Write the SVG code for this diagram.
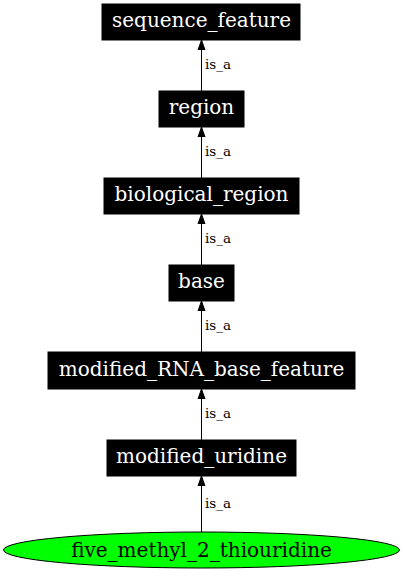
<svg xmlns="http://www.w3.org/2000/svg" width="403" height="576" viewBox="0 0 403 576">
<defs>
<style>
.box{fill:#000;stroke:#000}
.nt{font-family:"DejaVu Serif",serif;font-size:20px;fill:#fff;text-anchor:middle}
.et{font-family:"DejaVu Serif",serif;font-size:13.5px;fill:#000}
.edge{stroke:#000;stroke-width:1;fill:none}
</style>
<marker id="arr" markerWidth="10" markerHeight="10" refX="10" refY="5" orient="auto" markerUnits="userSpaceOnUse" viewBox="0 0 10 10">
<path d="M0,1.5 L10,5 L0,8.5 Z" fill="#000" stroke="#000"/>
</marker>
</defs>
<rect width="403" height="576" fill="#fff"/>
<g id="edges">
<line class="edge" x1="201.5" y1="91" x2="201.5" y2="40" marker-end="url(#arr)"/>
<text class="et" x="205" y="69">is_a</text>
<line class="edge" x1="201.5" y1="178" x2="201.5" y2="127" marker-end="url(#arr)"/>
<text class="et" x="205" y="156">is_a</text>
<line class="edge" x1="201.5" y1="265" x2="201.5" y2="214" marker-end="url(#arr)"/>
<text class="et" x="205" y="243">is_a</text>
<line class="edge" x1="201.5" y1="352" x2="201.5" y2="301" marker-end="url(#arr)"/>
<text class="et" x="205" y="330">is_a</text>
<line class="edge" x1="201.5" y1="440" x2="201.5" y2="389" marker-end="url(#arr)"/>
<text class="et" x="205" y="418">is_a</text>
<line class="edge" x1="201.5" y1="532" x2="201.5" y2="476" marker-end="url(#arr)"/>
<text class="et" x="205" y="508">is_a</text>
</g>
<g id="sequence_feature"><rect class="box" x="102" y="4" width="198" height="36"/><text class="nt" x="201.5" y="27">sequence_feature</text></g>
<g id="region"><rect class="box" x="159" y="91" width="85" height="36"/><text class="nt" x="201.5" y="114">region</text></g>
<g id="biological_region"><rect class="box" x="104" y="178" width="195" height="36"/><text class="nt" x="201.5" y="201">biological_region</text></g>
<g id="base"><rect class="box" x="169" y="265" width="65" height="36"/><text class="nt" x="201.5" y="288">base</text></g>
<g id="modified_RNA_base_feature"><rect class="box" x="48" y="352" width="307" height="37"/><text class="nt" x="201.5" y="376">modified_RNA_base_feature</text></g>
<g id="modified_uridine"><rect class="box" x="107" y="440" width="189" height="36"/><text class="nt" x="201.5" y="463">modified_uridine</text></g>
<g id="five_methyl_2_thiouridine"><ellipse cx="201.5" cy="550" rx="198" ry="18" fill="#00ff00" stroke="#000"/><text class="nt" x="201.5" y="557" style="fill:#000">five_methyl_2_thiouridine</text></g>
</svg>
